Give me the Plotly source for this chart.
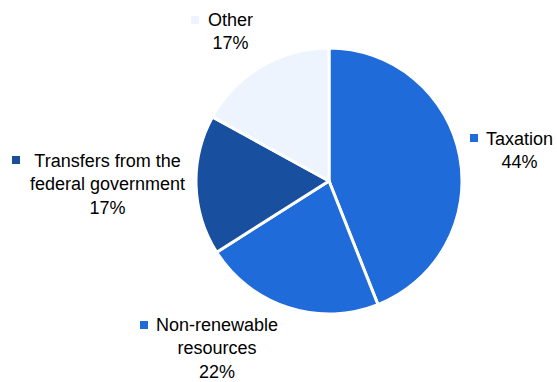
import plotly.graph_objects as go

W, H = 557, 382

# Revenue shares (%)
labels = ["Taxation", "Non-renewable resources", "Transfers from the federal government", "Other"]
values = [44, 22, 17, 17]
colors = ["#1f6bd9", "#1f6bd9", "#184f9e", "#eef4fd"]

# Label text lines (wrapped as displayed) and their placement in pixels
label_lines = [["Taxation"], ["Non-renewable", "resources"], ["Transfers from the", "federal government"], ["Other"]]
label_pos = [(519, 150), (217, 348), (107, 184), (230, 32)]
marker_pos = [(474, 138), (144, 325), (16, 160), (195, 20)]


def px(x, y):
    return x / W, 1 - y / H


fig = go.Figure(go.Pie(
    labels=labels,
    values=values,
    sort=False,
    direction="clockwise",
    rotation=0,
    marker=dict(colors=colors, line=dict(color="white", width=3)),
    textinfo="none",
    hoverinfo="label+percent",
    showlegend=False,
    domain=dict(x=[196 / W, 462 / W], y=[1 - 314 / H, 1 - 48 / H]),
))

total = sum(values)
annotations = []
shapes = []
for lines, v, (lx, ly), (mx, my), c in zip(label_lines, values, label_pos, marker_pos, colors):
    text = "<br>".join(lines + [f"{round(100 * v / total)}%"])
    ax, ay = px(lx, ly)
    annotations.append(dict(
        x=ax, y=ay, xref="paper", yref="paper", text=text, showarrow=False,
        xanchor="center", yanchor="middle", align="center",
        font=dict(family="Liberation Sans, Arial, sans-serif", size=18, color="#000000"),
    ))
    x0, y0 = px(mx - 4, my - 4)
    x1, y1 = px(mx + 4, my + 4)
    shapes.append(dict(type="rect", xref="paper", yref="paper", x0=x0, x1=x1, y0=y1, y1=y0,
                       fillcolor=c, line=dict(width=0)))

fig.update_layout(
    width=W, height=H,
    margin=dict(l=0, r=0, t=0, b=0),
    paper_bgcolor="white",
    plot_bgcolor="white",
    annotations=annotations,
    shapes=shapes,
)

fig.write_html("out.html")
